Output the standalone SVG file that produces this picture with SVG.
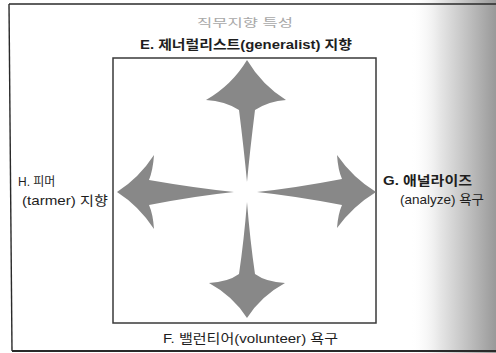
<svg xmlns="http://www.w3.org/2000/svg" width="496" height="353" viewBox="0 0 496 353">
<defs>
<linearGradient id="scan" x1="0" y1="0" x2="1" y2="0">
<stop offset="0" stop-color="#ffffff" stop-opacity="0"/>
<stop offset="0.35" stop-color="#e6e6e6"/>
<stop offset="0.7" stop-color="#bdbdbd"/>
<stop offset="1" stop-color="#999999"/>
</linearGradient>
<style>
.t{font-family:"Liberation Sans","Noto Sans CJK KR",sans-serif;fill:#1e1e1e;font-size:13px}
.b{font-weight:bold}
.arrow{fill:#888888;stroke:none}
.frame{fill:none;stroke:#2a2a2a}
</style>
</defs>
<rect x="0" y="0" width="496" height="353" fill="#ffffff"/>
<rect x="410" y="0" width="86" height="353" fill="url(#scan)"/>
<g id="frame">
<line class="frame" x1="9" y1="4" x2="496" y2="4" stroke-width="1.6"/>
<line class="frame" x1="9" y1="4" x2="12" y2="351" stroke-width="1.4"/>
<line class="frame" x1="12" y1="351" x2="496" y2="351" stroke-width="2"/>
</g>
<g id="title">
<text class="t" x="197" y="27" textLength="96" lengthAdjust="spacingAndGlyphs" style="fill:#a8a8a8;font-size:11px">직무지향 특성</text>
</g>
<g id="box">
<rect x="113" y="58" width="263" height="265" fill="none" stroke="#3a3a3a" stroke-width="1.5"/>
</g>
<g id="connectors">
<path class="arrow" d="M247,60 Q232,85 206,100 Q225,101 239,110 Q244,150 247,182 Q250,150 255,110 Q269,101 286,100 Q262,85 247,60 Z"/>
<path class="arrow" d="M247,318 Q233,296 209,283 Q228,282 239,274 Q244,240 247,202 Q250,240 255,274 Q266,282 285,283 Q261,296 247,318 Z"/>
<path class="arrow" d="M117,192 Q139,178 154,155 Q153,170 149,180 Q195,188 234,192 Q195,196 149,205 Q153,214 154,229 Q139,206 117,192 Z"/>
<path class="arrow" d="M376,192 Q353,178 337,155 Q338,170 342,179 Q295,188 257,192 Q295,196 342,205 Q338,214 337,228 Q353,206 376,192 Z"/>
</g>
<g id="label-E">
<text class="t b" x="140" y="49" textLength="212" lengthAdjust="spacingAndGlyphs">E. 제너럴리스트(generalist) 지향</text>
</g>
<g id="label-H">
<text class="t" x="18" y="186" style="font-size:12px">H. 피머</text>
<text class="t" x="22" y="205" textLength="86" lengthAdjust="spacingAndGlyphs">(tarmer) 지향</text>
</g>
<g id="label-G">
<text class="t b" x="383" y="185" textLength="89" lengthAdjust="spacingAndGlyphs">G. 애널라이즈</text>
<text class="t" x="400" y="204" textLength="84" lengthAdjust="spacingAndGlyphs">(analyze) 욕구</text>
</g>
<g id="label-F">
<text class="t" x="163" y="343" textLength="175" lengthAdjust="spacingAndGlyphs">F. 밸런티어(volunteer) 욕구</text>
</g>
</svg>
